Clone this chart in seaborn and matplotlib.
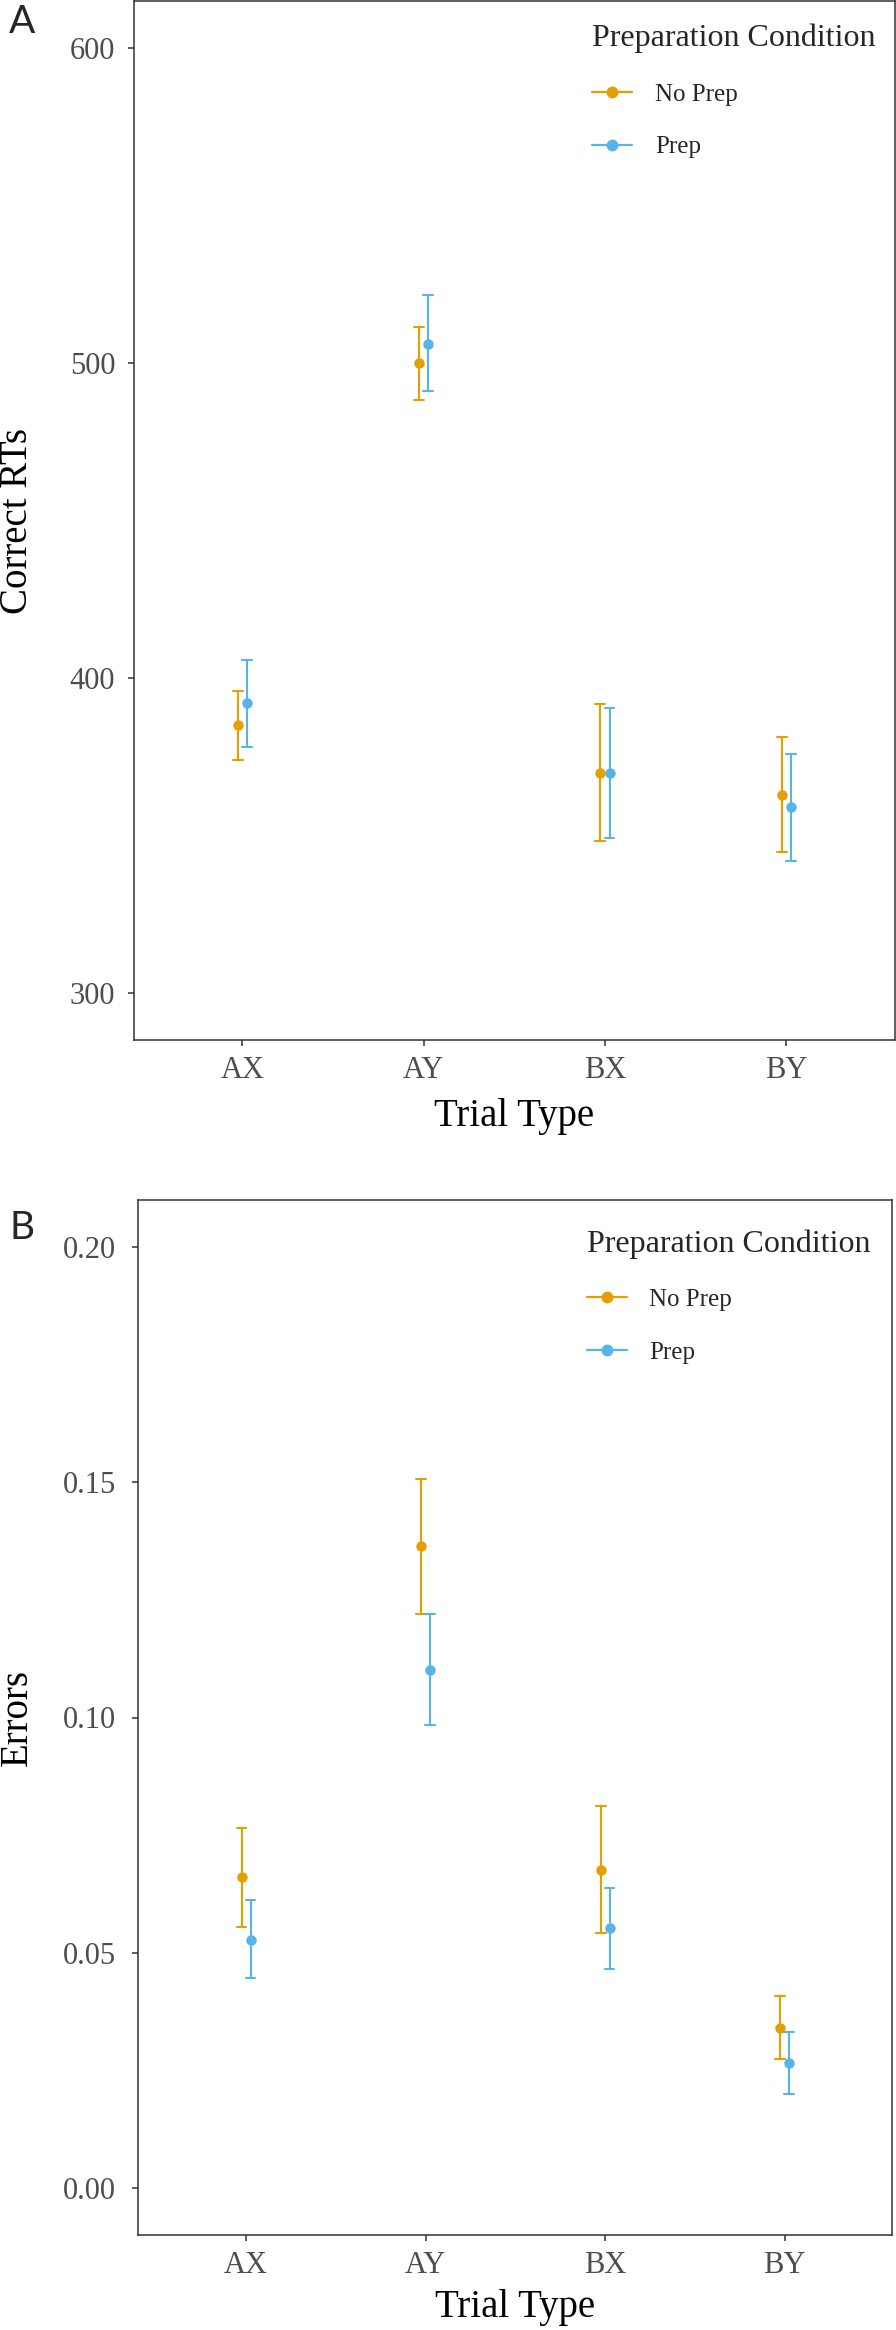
import numpy as np
import pandas as pd
import matplotlib
matplotlib.use("Agg")
import matplotlib.pyplot as plt
from matplotlib.lines import Line2D
import seaborn as sns

# ---------------- data ----------------
trial_types = ["AX", "AY", "BX", "BY"]
conditions = ["No Prep", "Prep"]
colors = ["#E69F00", "#56B4E9"]

# Panel A: correct RTs (point, lower, upper)
rt_noprep_mean = [384.9, 500.0, 369.9, 362.9]
rt_noprep_lo = [373.9, 488.4, 348.2, 344.7]
rt_noprep_hi = [395.8, 511.6, 391.6, 381.1]
rt_prep_mean = [391.9, 505.9, 369.9, 358.9]
rt_prep_lo = [378.2, 491.0, 349.3, 341.9]
rt_prep_hi = [405.7, 521.7, 390.6, 375.8]

# Panel B: errors
err_noprep_mean = [0.0661, 0.1364, 0.0676, 0.0341]
err_noprep_lo = [0.0554, 0.1220, 0.0542, 0.0274]
err_noprep_hi = [0.0765, 0.1508, 0.0811, 0.0408]
err_prep_mean = [0.0528, 0.1101, 0.0552, 0.0266]
err_prep_lo = [0.0446, 0.0985, 0.0466, 0.0199]
err_prep_hi = [0.0612, 0.1220, 0.0638, 0.0331]

rt_yticks = [300, 400, 500, 600]
err_yticks = [0.00, 0.05, 0.10, 0.15, 0.20]


def long_frame(series):
    rows = []
    for cond, (lo, mid, hi) in zip(conditions, series):
        for t, a, b, c in zip(trial_types, lo, mid, hi):
            for v in (a, b, c):
                rows.append({"Trial Type": t, "Preparation Condition": cond, "value": v})
    return pd.DataFrame(rows)


rt_df = long_frame([(rt_noprep_lo, rt_noprep_mean, rt_noprep_hi),
                    (rt_prep_lo, rt_prep_mean, rt_prep_hi)])
err_df = long_frame([(err_noprep_lo, err_noprep_mean, err_noprep_hi),
                     (err_prep_lo, err_prep_mean, err_prep_hi)])

# ---------------- style ----------------
sns.set_style("white")
plt.rcParams["font.family"] = ["Liberation Serif", "DejaVu Serif"]

W, H = 896, 2330
fig = plt.figure(figsize=(W / 100, H / 100), dpi=100)

axA = fig.add_axes([133.7 / W, (H - 1040) / H, 761.3 / W, 1039 / H])
axB = fig.add_axes([138.3 / W, (H - 2235) / H, 754 / W, 1035 / H])

TICK_GRAY = "#4D4D4D"
SPINE = "#333333"


def draw(ax, df, ylabel, ylim, yticks, fmt, ypad, leg_xy, ylab_x, xlab_y):
    sns.pointplot(data=df, x="Trial Type", y="value", hue="Preparation Condition",
                  order=trial_types, hue_order=conditions, palette=colors,
                  estimator="median", errorbar=("pi", 100), dodge=True,
                  linestyle="none", markers="o", capsize=0.055,
                  markersize=6.5, markeredgewidth=1, err_kws={"linewidth": 1.5},
                  legend=False, ax=ax)
    ax.set_xlim(-0.6, 3.6)
    ax.set_ylim(*ylim)
    ax.set_yticks(yticks)
    ax.set_yticklabels([fmt.format(v) for v in yticks])
    for s in ax.spines.values():
        s.set_visible(True)
        s.set_color(SPINE)
        s.set_linewidth(1.1)
    ax.tick_params(axis="both", which="major", direction="out", length=4.2,
                   width=1.1, color=SPINE, labelsize=22, labelcolor=TICK_GRAY,
                   left=True, bottom=True)
    ax.tick_params(axis="y", pad=ypad)
    ax.tick_params(axis="x", pad=7)
    ax.set_xlabel("Trial Type", fontsize=28, color="black", va="center")
    ax.xaxis.set_label_coords(0.5, xlab_y)
    ax.set_ylabel(ylabel, fontsize=28, color="black", va="center")
    ax.yaxis.set_label_coords(ylab_x, 0.5)

    handles = [Line2D([], [], color=c, marker="o", markersize=7.5, linewidth=1.6)
               for c in colors]
    leg = ax.legend(handles, conditions, title="Preparation Condition",
                    loc="upper left", bbox_to_anchor=leg_xy, frameon=False,
                    borderpad=0, fontsize=18, title_fontsize=23,
                    handlelength=1.6, handletextpad=0.9, labelspacing=1.2,
                    alignment="left")
    return leg


draw(axA, rt_df, "Correct RTs", (285, 615), rt_yticks, "{:.0f}", 9,
     (0.586, 0.990), -0.153, -0.0737)
draw(axB, err_df, "Errors", (-0.01, 0.21), err_yticks, "{:.2f}", 12,
     (0.578, 0.984), -0.161, -0.0705)

fig.text(22 / W, 1 - 21.7 / H, "A", ha="center", va="center", fontsize=28,
         family=["Lato", "DejaVu Sans"])
fig.text(22 / W, 1 - 1228 / H, "B", ha="center", va="center", fontsize=28,
         family=["Lato", "DejaVu Sans"])

fig.savefig("out.png", dpi=100, facecolor="white")
